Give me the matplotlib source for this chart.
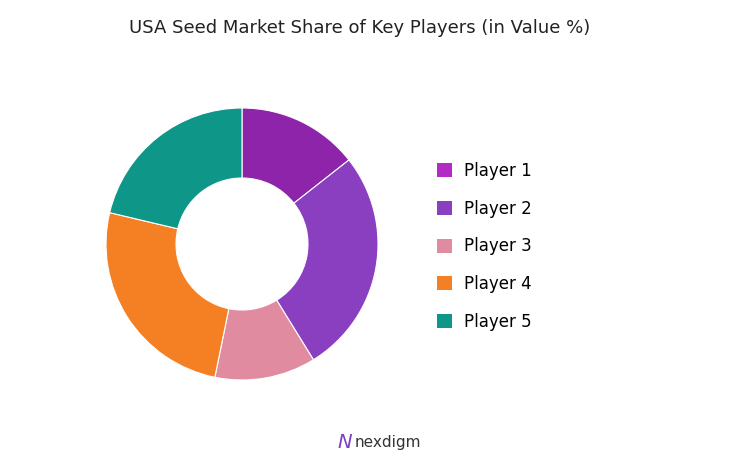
import matplotlib
matplotlib.use("Agg")
import matplotlib.pyplot as plt
from matplotlib.patches import Patch

labels = ["Player 1", "Player 2", "Player 3", "Player 4", "Player 5"]
values = [14.4, 26.8, 12.0, 25.5, 21.3]
colors = ["#8E24AA", "#8A3FC1", "#E08BA0", "#F57F23", "#0E9688"]
legend_colors = ["#B22BC4", "#8A3FC1", "#E08BA0", "#F57F23", "#0E9688"]

fig = plt.figure(figsize=(7.54, 4.66), dpi=100)
ax = fig.add_axes([106/754, 1-(380/466), 272/754, 272/466])
ax.pie(values, colors=colors, startangle=90, counterclock=False,
       wedgeprops=dict(width=70/136, edgecolor="white", linewidth=0.8), radius=1)
ax.set_aspect("equal")
ax.set_xlim(-1, 1); ax.set_ylim(-1, 1)

handles = [Patch(facecolor=c) for c in legend_colors]
fig.legend(handles, labels, loc="upper left", bbox_to_anchor=(422/754, 1-147/466),
           frameon=False, fontsize=12, handlelength=0.9, handleheight=0.9,
           labelspacing=1.18, handletextpad=0.7)

fig.text(360/754, 1-28/466, "USA Seed Market Share of Key Players (in Value %)",
         ha="center", va="center", fontsize=13, color="#222222")
fig.text(388/754, 1-442/466, "nexdigm", ha="center", va="center", fontsize=11,
         color="#333333")
fig.text(345/754, 1-442/466, "N", ha="center", va="center", fontsize=14,
         color="#7B3FC1", style="italic")
fig.savefig("out.png", dpi=100)
